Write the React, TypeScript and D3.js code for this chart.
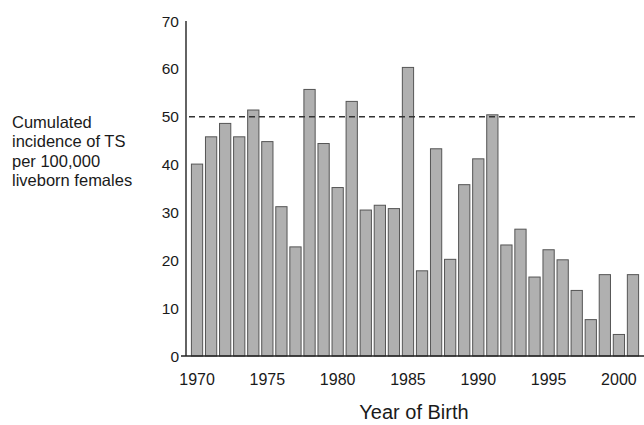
import React from "react";
import * as d3 from "d3";

const years: number[] = [
  1970, 1971, 1972, 1973, 1974, 1975, 1976, 1977, 1978, 1979, 1980,
  1981, 1982, 1983, 1984, 1985, 1986, 1987, 1988, 1989, 1990,
  1991, 1992, 1993, 1994, 1995, 1996, 1997, 1998, 1999, 2000, 2001,
];
const incidence: number[] = [
  40.1, 45.8, 48.6, 45.8, 51.4, 44.8, 31.2, 22.8, 55.7, 44.4, 35.2,
  53.2, 30.5, 31.5, 30.8, 60.3, 17.8, 43.3, 20.2, 35.8, 41.2,
  50.4, 23.2, 26.5, 16.5, 22.2, 20.1, 13.7, 7.6, 17.0, 4.5, 17.0,
];
const yTicks: number[] = [0, 10, 20, 30, 40, 50, 60, 70];
const xTickYears: number[] = [1970, 1975, 1980, 1985, 1990, 1995, 2000];
const referenceLevel = 50;
const yLabelLines: string[] = [
  "Cumulated",
  "incidence of TS",
  "per 100,000",
  "liveborn females",
];
const xTitle = "Year of Birth";

export default function App() {
  const W = 644;
  const H = 425;
  const x = d3
    .scaleBand<number>()
    .domain(years)
    .range([190, 640])
    .paddingInner(0.2)
    .paddingOuter(0.1);
  const y = d3.scaleLinear().domain([0, 70]).range([356, 21]);
  const font = "'Liberation Sans', Arial, Helvetica, sans-serif";
  const axisX = 186;

  return (
    <svg
      width={W}
      height={H}
      style={{ position: "absolute", left: 0, top: 0, background: "#fff" }}
      fontFamily={font}
    >
      {years.map((yr, i) => (
        <rect
          key={yr}
          x={x(yr)!}
          y={y(incidence[i])}
          width={x.bandwidth()}
          height={y(0) - y(incidence[i])}
          fill="#b0b0b0"
          stroke="#555"
          strokeWidth={1}
        />
      ))}
      <line
        x1={axisX + 3}
        x2={637}
        y1={y(referenceLevel)}
        y2={y(referenceLevel)}
        stroke="#333"
        strokeWidth={1.4}
        strokeDasharray="6 4"
      />
      <line x1={axisX} x2={axisX} y1={y(70)} y2={y(0)} stroke="#222" strokeWidth={1.4} />
      <line x1={181} x2={644} y1={y(0)} y2={y(0)} stroke="#222" strokeWidth={1.6} />
      {yTicks.map((t) => (
        <text
          key={t}
          x={179}
          y={y(t)}
          dy="0.36em"
          textAnchor="end"
          fontSize={15.5}
          fill="#1a1a1a"
        >
          {t}
        </text>
      ))}
      {xTickYears.map((yr) => (
        <text
          key={yr}
          x={x(yr)! + x.bandwidth() / 2}
          y={385}
          textAnchor="middle"
          fontSize={16}
          fill="#1a1a1a"
        >
          {yr}
        </text>
      ))}
      <text x={414} y={419} textAnchor="middle" fontSize={20} fill="#1a1a1a">
        {xTitle}
      </text>
      {yLabelLines.map((ln, i) => (
        <text key={ln} x={12} y={128 + i * 19.3} fontSize={16.5} fill="#1a1a1a">
          {ln}
        </text>
      ))}
    </svg>
  );
}
